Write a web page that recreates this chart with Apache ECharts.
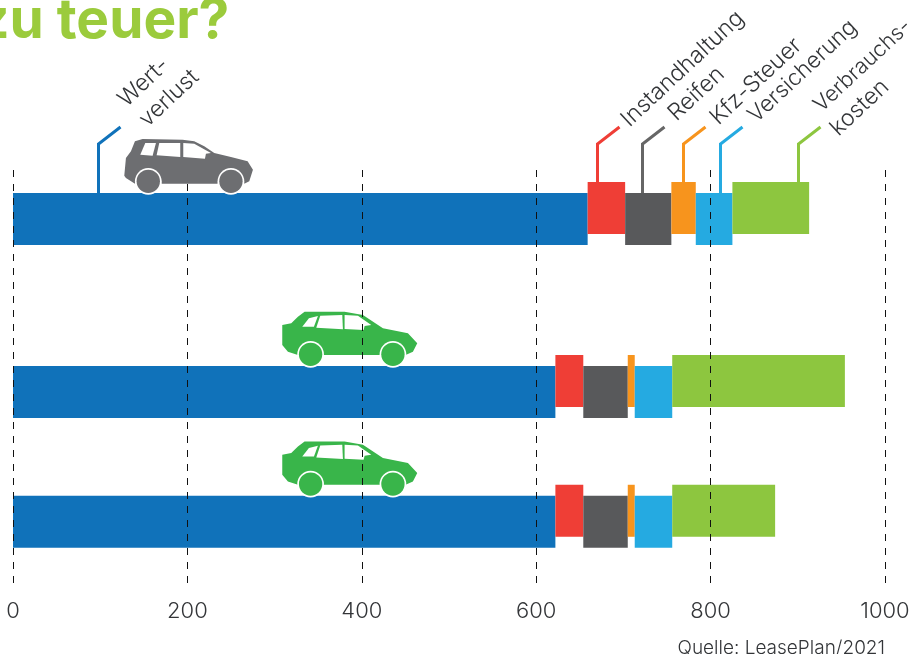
<!DOCTYPE html>
<html><head><meta charset="utf-8">
<style>html,body{margin:0;padding:0;background:#fff}#c{width:911px;height:654px}</style>
<script src="https://cdn.jsdelivr.net/npm/echarts@6/dist/echarts.min.js"></script>
</head><body><div id="c"></div>
<script>
var categories = ['Auto oben','','','','Auto Mitte','','','Auto unten'];
var rowIndexes = [0, 4, 7];
var tickValues = [0, 200, 400, 600, 800, 1000];
var wertverlust    = [659, 622, 622];
var instandhaltung = [43, 32, 32];
var reifen         = [53, 51, 51];
var kfzSteuer      = [28, 8, 8];
var versicherung   = [42, 43, 43];
var verbrauch      = [88, 198, 118];
var calloutX = [98, 670, 721, 768, 811, 900];
var calloutLabels = [['Wert-','verlust'],['Instandhaltung'],['Reifen'],['Kfz-Steuer'],['Versicherung'],['Verbrauchs-','kosten']];
var carX = [201, 386, 386];

var BLUE='#1072BA',RED='#EF3E36',GRAY='#58595B',ORANGE='#F7941D',SKY='#25AAE1',LIME='#8DC63F';
var TEXT='#333538', FONT='Inter, "Open Sans", sans-serif';
var parts=[
 {name:'Wertverlust',v:wertverlust,c:BLUE,lift:0,line:BLUE,off:[[9,-16,23],[30,4,23]]},
 {name:'Instandhaltung',v:instandhaltung,c:RED,lift:1,line:RED,off:[[13,4,23]]},
 {name:'Reifen',v:reifen,c:GRAY,lift:0,line:'#666',off:[[15,-2,23]]},
 {name:'Kfz-Steuer',v:kfzSteuer,c:ORANGE,lift:1,line:ORANGE,off:[[16,2,23]]},
 {name:'Versicherung',v:versicherung,c:SKY,lift:0,line:SKY,off:[[17,0,22.5]]},
 {name:'Verbrauchskosten',v:verbrauch,c:LIME,lift:1,line:LIME,off:[[4,-11,21.5],[21,13,23]]}
];
var cum=[0,0,0];
var BAR_H=52, LIFT=11;
var barSeries=parts.map(function(p,k){
  var data=p.v.map(function(val,i){var s=cum[i];cum[i]+=val;return [s,cum[i],categories[rowIndexes[i]]];});
  return {type:'custom',name:p.name,xAxisIndex:0,yAxisIndex:0,z:2+k*0.01,
    encode:{x:[0,1],y:2},data:data,
    renderItem:function(params,api){
      var a=api.coord([api.value(0),rowIndexes[params.dataIndex]]);
      var b=api.coord([api.value(1),rowIndexes[params.dataIndex]]);
      var top=a[1]-BAR_H/2-(p.lift?LIFT:0);
      return {type:'rect',shape:{x:a[0],y:top,width:b[0]-a[0],height:BAR_H},style:{fill:p.c}};
    }};
});

/* car outlines, drawn at 3x and scaled down */
var SHAPE_GREY={cx:232,base:200,wheels:[112,360],r:35,
  body:'M40 148 L45 95 L60 75 L72 45 L95 38 L215 40 L250 45 L280 60 L310 80 L360 92 L410 105 L426 130 L415 165 L400 172 A40 40 0 0 0 320 172 L152 172 A40 40 0 0 0 72 172 L45 155 Z',
  win:['M103 50 L135 50 L125 88 L88 85 Z','M145 50 L208 50 L208 92 L137 87 Z','M217 50 L250 52 L285 72 L300 80 L285 82 L282 97 L217 92 Z']};
var SHAPE_GREEN={cx:240,base:198,wheels:[123,370],r:35,
  body:'M38 75 L65 70 L85 50 L105 35 L225 35 L280 45 L340 85 L415 100 L443 130 L430 155 L408 165 A38 38 0 0 0 332 165 L161 165 A38 38 0 0 0 85 165 L55 155 L38 135 Z',
  win:['M98 80 L118 55 L145 48 L133 80 Z','M152 47 L218 45 L220 88 L140 83 Z','M225 45 L265 47 L305 75 L285 78 L282 90 L225 87 Z']};
function carSeries(name,idx,z,col,sh){
  return {type:'custom',name:name,xAxisIndex:0,yAxisIndex:0,z:z,silent:true,
    encode:{x:0,y:1},
    data:idx.map(function(i){return [carX[i],categories[rowIndexes[i]],i];}),
    renderItem:function(params,api){
      var i=idx[params.dataIndex];
      var p=api.coord([api.value(0),rowIndexes[i]]);
      var kids=[{type:'path',shape:{pathData:sh.body},style:{fill:col}}];
      sh.win.forEach(function(w){kids.push({type:'path',shape:{pathData:w},style:{fill:'#fff'}});});
      sh.wheels.forEach(function(w){
        var cy=sh.base-sh.r;
        kids.push({type:'circle',shape:{cx:w,cy:cy,r:sh.r+5},style:{fill:'#fff'}});
        kids.push({type:'circle',shape:{cx:w,cy:cy,r:sh.r},style:{fill:col}});
      });
      return {type:'group',x:p[0]-sh.cx/3,y:p[1]-BAR_H/2-sh.base/3,scaleX:1/3,scaleY:1/3,children:kids};
    }};
}

var calloutSeries={type:'custom',name:'Beschriftung',xAxisIndex:0,yAxisIndex:0,z:4,silent:true,
  encode:{x:0,y:1},clip:false,
  data:calloutX.map(function(x,i){return [x,categories[0],i];}),
  renderItem:function(params,api){
    var i=params.dataIndex,pt=parts[i];
    var p=api.coord([api.value(0),rowIndexes[0]]);
    var x=Math.round(p[0])+0.5, base=p[1]-BAR_H/2-(pt.lift?LIFT:0);
    var elbow=p[1]-75, tip=p[1]-92;
    var kids=[{type:'polyline',shape:{points:[[x,base],[x,elbow],[x+22,tip]]},style:{stroke:pt.line,lineWidth:3,fill:null}}];
    calloutLabels[i].forEach(function(t,j){
      kids.push({type:'text',x:x+22+pt.off[j][0],y:tip+pt.off[j][1],rotation:43*Math.PI/180,
        style:{text:t,fill:TEXT,font:'300 '+pt.off[j][2]+'px '+FONT,textAlign:'left',textVerticalAlign:'bottom'}});
    });
    return {type:'group',children:kids};
  }};

var chart=echarts.init(document.getElementById('c'),null,{renderer:'canvas'});
chart.setOption({
  animation:false,
  backgroundColor:'#fff',
  title:[
    {text:'zu teuer?',left:-22,top:-6,padding:0,textStyle:{color:'#9BCB3C',fontSize:55,fontWeight:700,fontFamily:FONT}},
    {text:'Quelle: LeasePlan/2021',right:26,top:639,padding:0,textStyle:{color:TEXT,fontSize:19,fontWeight:300,fontFamily:FONT}}
  ],
  grid:[
    {left:13,width:872,top:197.4,height:346,outerBoundsMode:'none'},
    {left:13,width:872,top:170,height:416,outerBoundsMode:'none'}
  ],
  xAxis:[
    {type:'value',gridIndex:0,min:0,max:1000,show:false},
    {type:'value',gridIndex:1,min:0,max:1000,interval:200,z:10,
     axisLine:{show:false},axisTick:{show:false},
     axisLabel:{color:TEXT,fontSize:22,fontWeight:300,fontFamily:FONT,margin:14,hideOverlap:false,
       formatter:function(v){return tickValues.indexOf(v)>=0?String(v):'';}},
     splitLine:{show:true,lineStyle:{color:'#111',width:1,type:[7,7]}}}
  ],
  yAxis:[
    {type:'category',gridIndex:0,data:categories,inverse:true,show:false},
    {type:'value',gridIndex:1,min:0,max:1,show:false}
  ],
  series:barSeries.concat([
    carSeries('Auto grau',[0],12,'#6D6E71',SHAPE_GREY),
    carSeries('Autos grün',[1,2],3,'#39B54A',SHAPE_GREEN),
    calloutSeries])
});
</script></body></html>
